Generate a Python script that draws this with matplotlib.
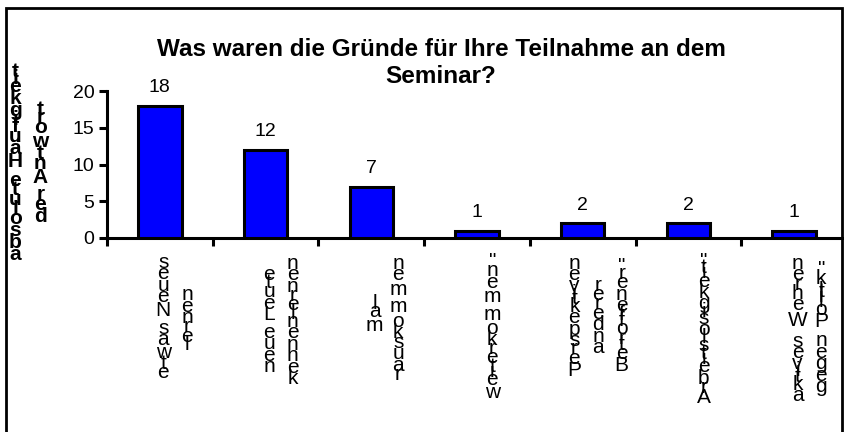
import matplotlib
matplotlib.use("Agg")
import matplotlib.pyplot as plt
from matplotlib.font_manager import FontProperties, findfont
from matplotlib.ft2font import FT2Font
from matplotlib.patches import Rectangle

# Daten
categories = [
    ["etwas Neues", "lernen"],
    ["neue Leute", "kennenlernen"],
    ["mal", "rauskommen"],
    ['weiterkommen"'],
    ["Perspektiven", "anderer", 'Betroffener"'],
    ['Arbeitslosigkeit"'],
    ["aktives Wehren", 'gegen Politik"'],
]
counts = [18, 12, 7, 1, 2, 2, 1]
y_ticks = [0, 5, 10, 15, 20]
ylabel_lines = ["absolute Häufigkeit", "der Antwort"]
title = "Was waren die Gründe für Ihre Teilnahme an dem\nSeminar?"

DPI = 100
fig = plt.figure(figsize=(8.45, 4.32), dpi=DPI)
ax = fig.add_axes([107 / 845, 194 / 432, 740 / 845, 147 / 432])

x = list(range(len(counts)))
ax.bar(x, counts, width=0.41, color="#0000ff", edgecolor="black", linewidth=2.2, zorder=3)
for xi, c in zip(x, counts):
    ax.annotate(str(c), xy=(xi, c), xytext=(0, 7), textcoords="offset points",
                ha="center", va="bottom", fontsize=14, family="Liberation Sans")

ax.set_xlim(-0.5, len(counts) - 0.5)
ax.set_ylim(0, 20)
ax.set_yticks(y_ticks)
ax.set_xticks([i - 0.5 for i in range(len(counts) + 1)])
ax.set_xticklabels([])
for s in ["top", "right"]:
    ax.spines[s].set_visible(False)
for s in ["left", "bottom"]:
    ax.spines[s].set_linewidth(2.2)
ax.tick_params(axis="both", direction="out", length=6, width=2.2, labelsize=14)
ax.tick_params(axis="y", pad=3)
for lab in ax.get_yticklabels():
    lab.set_family("Liberation Sans")


def advances(text, prop):
    # Vorschubbreite jedes Zeichens in Punkt
    font = FT2Font(findfont(prop), hinting_factor=1)
    font.set_size(prop.get_size_in_points(), 72)
    return [font.load_char(ord(ch)).linearHoriAdvance / 65536 for ch in text]


def stacked(lines, xy, xycoords, dx0, dy_center, spacing, prop):
    # aufrechte Zeichen, von unten nach oben gestapelt
    n = len(lines)
    for j, line in enumerate(lines):
        adv = advances(line, prop)
        L = sum(adv)
        pos = dy_center - L / 2
        dx = dx0 + (j - (n - 1) / 2) * spacing
        for ch, a in zip(line, adv):
            if ch != " ":
                ax.annotate(ch, xy=xy, xycoords=xycoords, xytext=(dx, pos + a / 2),
                            textcoords="offset points", ha="center", va="center",
                            fontproperties=prop, annotation_clip=False)
            pos += a


xprop = FontProperties(family="Liberation Sans", size=15)
for xi, lines in zip(x, categories):
    longest = max(sum(advances(l, xprop)) for l in lines)
    stacked(lines, (xi, 0), ("data", "axes fraction"), 11, -(14 + longest / 2), 17, xprop)

yprop = FontProperties(family="Liberation Sans", size=15, weight="bold")
stacked(ylabel_lines, (0, 0.5), "axes fraction", -57, 0, 18, yprop)

fig.text(441 / 845, 1 - 63 / 432, title, ha="center", va="center", fontsize=17.5,
         fontweight="bold", family="Liberation Sans", linespacing=1.25)

fig.patches.append(Rectangle((6 / 845, -0.1), 836 / 845, 1.1 - 8 / 432,
                             transform=fig.transFigure, fill=False,
                             edgecolor="black", linewidth=2))

fig.savefig("out.png", dpi=DPI)
